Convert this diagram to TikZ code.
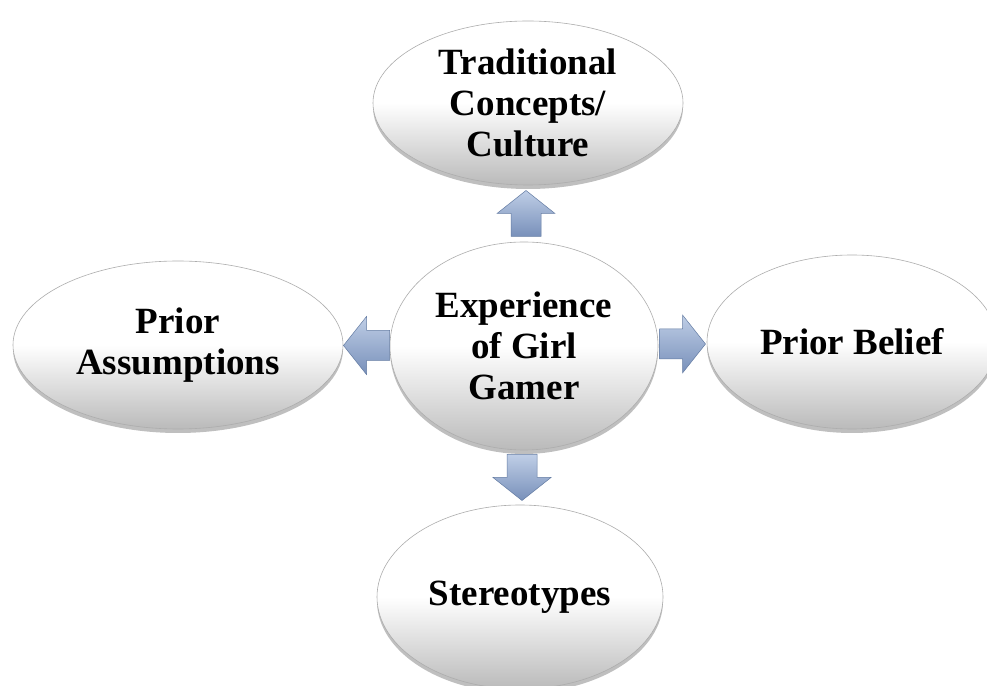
\documentclass[tikz,border=0pt]{standalone}
\usepackage{fontspec}
\setmainfont{Liberation Serif}
\usetikzlibrary{shapes.geometric,shadows,calc}
\definecolor{arrowlight}{HTML}{BFCEE6}
\definecolor{arrowdark}{HTML}{7890BA}
\definecolor{arrowedge}{HTML}{647CA3}
\tikzset{
  bubble/.style={ellipse, inner sep=0pt, draw=black!32, line width=0.6pt,
    top color=white, bottom color=black!27, middle color=white,
    drop shadow={shadow xshift=0pt, shadow yshift=-4pt, opacity=0.25, fill=black},
    font=\bfseries\fontsize{37}{41}\selectfont, align=center, text=black},
  blockarrow/.pic={
    \shade[top color=arrowlight, bottom color=arrowdark, draw=arrowedge, line width=0.5pt, line join=miter]
      (-23,-15) -- (0,-15) -- (0,-29) -- (23,0) -- (0,29) -- (0,15) -- (-23,15) -- cycle;
  }
}
\begin{document}
\begin{tikzpicture}[x=1pt,y=1pt]
\useasboundingbox (0,0) rectangle (987,685);
\fill[white] (0,0) rectangle (987,685);
\node[bubble, minimum width=310pt, minimum height=164pt] (T) at (528,582) {Traditional\\Concepts/\\Culture};
\node[bubble, minimum width=268pt, minimum height=208pt] (C) at (524,339) {Experience\\of Girl\\Gamer};
\node[bubble, minimum width=330pt, minimum height=168pt] (L) at (178,340) {Prior\\Assumptions};
\node[bubble, minimum width=290pt, minimum height=174pt] (R) at (852,343) {Prior Belief};
\node[bubble, minimum width=286pt, minimum height=184pt] (B) at (520,88) {Stereotypes};
\pic[rotate=90] (aT) at ($(C.north)!0.5!(T.south)$) {blockarrow};
\pic[rotate=180] (aL) at ($(C.west)!0.5!(L.east)$) {blockarrow};
\pic (aR) at ($(C.east)!0.5!(R.west)$) {blockarrow};
\pic[rotate=-90] (aB) at ($(C.south)!0.5!(B.north)$) {blockarrow};
\end{tikzpicture}
\end{document}
